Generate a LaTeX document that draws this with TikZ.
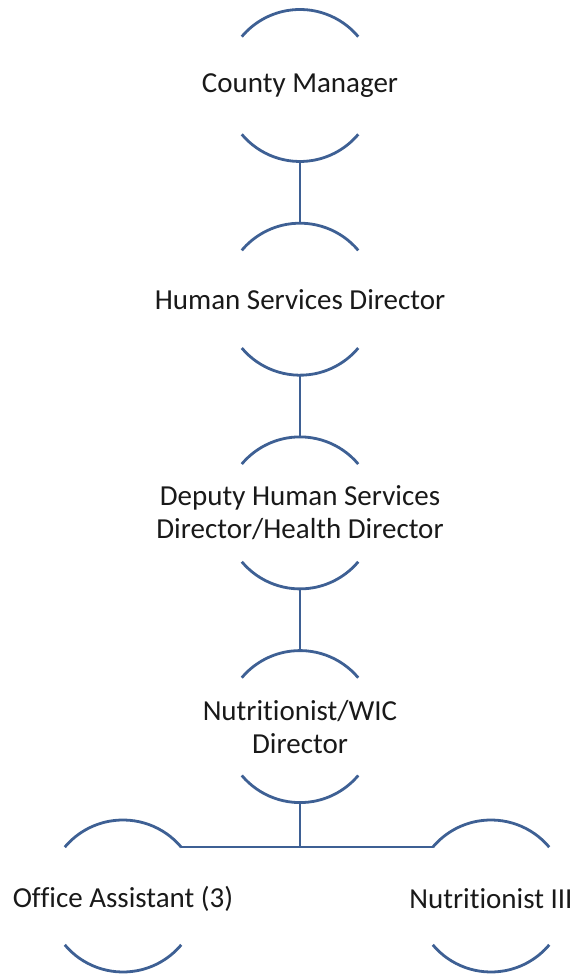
\documentclass[tikz,border=0pt]{standalone}
\usepackage{fontspec}
\setmainfont{Carlito}[Ligatures=NoCommon]
\usepackage{xcolor}
\definecolor{ringblue}{RGB}{62,96,148}
\tikzset{
  ring/.style={circle, minimum size=152pt, inner sep=0pt, outer sep=0pt},
  rtext/.style={font=\fontsize{29}{33}\selectfont, align=center, text=black!90, inner sep=0pt},
  rarc/.style={draw=ringblue, line width=2.8pt},
  link/.style={draw=ringblue, line width=2.2pt}
}
\newcommand{\ringarcs}[1]{%
  \draw[rarc] (#1.40) arc[start angle=40, end angle=140, radius=76pt];
  \draw[rarc] (#1.220) arc[start angle=220, end angle=320, radius=76pt];}

\begin{document}
\begin{tikzpicture}[x=1pt, y=1pt]
    \useasboundingbox (0,0) rectangle (576,976);
    % posts
    \node[ring, label={[rtext]center:County Manager}] (cm) at (300,890.5) {};
    \node[ring, label={[rtext]center:Human Services Director}] (hsd) at (300,676.8) {};
    \node[ring, label={[rtext]center:Deputy Human Services\\Director/Health Director}] (dep) at (300,463.1) {};
    \node[ring, label={[rtext]center:Nutritionist/WIC\\Director}] (wic) at (300,249.4) {};
    \node[ring, label={[rtext, yshift=-3pt]center:Office Assistant (3)}] (oa) at (123,80) {};
    \node[ring, label={[rtext, yshift=-3pt]center:Nutritionist III}] (nut) at (491,80) {};
    % links
    \draw[link] (cm.south) -- (hsd.north);
    \draw[link] (hsd.south) -- (dep.north);
    \draw[link] (dep.south) -- (wic.north);
    \draw[link] (oa.40) -- (nut.140);
    \draw[link] (wic.south) -- (wic.south |- oa.40);
    % rings
    \foreach \n in {cm,hsd,dep,wic,oa,nut} {\ringarcs{\n}}
  \end{tikzpicture}
\end{document}
